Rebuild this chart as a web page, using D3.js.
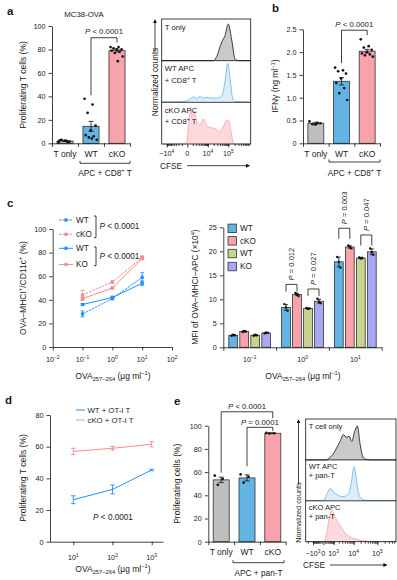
<!DOCTYPE html>
<html>
<head>
<meta charset="utf-8">
<script src="https://cdn.jsdelivr.net/npm/d3@7"></script>
<style>
  body { margin: 0; background: #fff; }
  svg text { font-family: "Liberation Sans", Arial, Helvetica, sans-serif; fill: #1a1a1a; }
</style>
</head>
<body>
<svg id="fig" width="397" height="580"></svg>
<script>
// ---------- data ----------

// a: proliferating T cells, MC38-OVA
const aCats = ['T only', 'WT', 'cKO'];
const aMeans = [1.9, 14.5, 79];
const aSem = [0.3, 4.2, 1.2];
const aDots = [
  [1, 2, 3, 1.5, 2.2, 2.6, 1.2],
  [38, 33, 26, 15, 11, 7, 6, 5, 3, 4],
  [82, 82, 81, 80, 80, 79, 78, 77, 74, 70]
];

// a: CFSE histograms  [CFSE, normalized count]
const aHistTOnly = [[-18200, 0], [19000, 0], [28000, 0.1], [49000, 0.45], [70000, 0.6], [100000, 0.88],
  [145000, 0.5], [206000, 0.05], [295000, 0], [1.1e6, 0]];
const aHistWT = [[-18200, 0.01], [-350, 0.02], [420, 0.08], [1130, 0.13], [2150, 0.09], [3620, 0.14],
  [5700, 0.1], [8750, 0.12], [15800, 0.1], [28000, 0.1], [49000, 0.15], [70000, 0.5], [94000, 0.94],
  [120000, 0.6], [160000, 0.1], [206000, 0.02], [1.1e6, 0.01]];
const aHistKO = [[-18200, 0], [-350, 0], [-80, 0.05], [141, 0.4], [550, 0.84], [886, 0.65], [1390, 0.8],
  [2150, 0.55], [3620, 0.45], [5700, 0.6], [8750, 0.45], [13000, 0.4], [23000, 0.37], [40000, 0.29],
  [57000, 0.41], [83000, 0.57], [107000, 0.55], [145000, 0.2], [190000, 0], [1.1e6, 0]];

// b: IFNγ
const bCats = ['T only', 'WT', 'cKO'];
const bMeans = [0.44, 1.36, 2.02];
const bSem = [0.02, 0.08, 0.04];
const bDots = [
  [0.48, 0.45, 0.42, 0.44, 0.41],
  [1.66, 1.6, 1.58, 1.53, 1.42, 1.32, 1.21, 1.1, 0.95],
  [2.28, 2.13, 2.1, 2.05, 2.0, 1.97, 1.95, 1.93, 1.9]
];

// c (left): OVA-MHCI+ CD11c+ %
const cDoses = [0.1, 1, 10];
const cSeries = ['WT', 'cKO', 'WT', 'KO'];
const cMeans = [[28, 41, 59], [44, 55, 76], [36, 42, 54], [41, 50, 75]];
const cSem = [[2.5, 1, 4], [4, 1, 1.2], [0.8, 1, 2], [1.5, 0.8, 1]];

// c (right): MFI of OVA-MHCI-APC (x10^4)
const mfiDoses = [-1, 0, 1];
const mfiGroups = ['WT', 'cKO', 'WT', 'KO'];
const mfiMeans = [[2.5, 3.3, 2.5, 3.0], [8.3, 11.0, 8.1, 9.6], [17.8, 20.9, 18.6, 19.9]];
const mfiSem = [[0.1, 0.1, 0.1, 0.1], [0.6, 0.25, 0.1, 0.4], [1.0, 0.25, 0.15, 0.6]];
const mfiDots = [
  [[2.4, 2.6, 2.5], [3.2, 3.4, 3.3], [2.4, 2.6, 2.5], [2.9, 3.1, 3.0]],
  [[9.0, 8.3, 7.6], [11.3, 11.0, 10.7], [8.2, 8.0, 8.1], [10.1, 9.5, 9.2]],
  [[18.8, 17.8, 16.6], [21.2, 20.9, 20.6], [18.7, 18.5, 18.6], [20.6, 19.8, 19.3]]
];

// d: proliferation with OT-I T
const dDoses = [10, 100, 1000];
const dSeries = ['WT + OT-I T', 'cKO + OT-I T'];
const dMeans = [[26.5, 33, 45.3], [57, 59, 61.5]];
const dSem = [[2.5, 2.8, 0.5], [2, 1.2, 1.7]];

// e: proliferating cells with pan-T
const eCats = ['T only', 'WT', 'cKO'];
const eMeans = [53.3, 55, 93.5];
const eSem = [2.3, 2.6, 0.3];
const eDots = [[57, 54, 49], [58, 56, 51], [93.8, 93.5, 93.3]];

// e: CFSE histograms
const eHistTOnly = [[-2590, 0], [200, 0], [364, 0.03], [950, 0.15], [1540, 0.3], [2330, 0.45], [3400, 0.62],
  [4930, 0.55], [6280, 0.58], [8240, 0.45], [11500, 0.72], [14500, 0.83], [18900, 0.4], [24000, 0.1],
  [31000, 0.02], [59000, 0], [5.9e5, 0]];
const eHistWT = [[-2590, 0.005], [0, 0.005], [228, 0.15], [364, 0.24], [533, 0.3], [950, 0.22], [1890, 0.13],
  [3400, 0.1], [4930, 0.14], [6280, 0.2], [8240, 0.5], [10400, 0.83], [12700, 0.6], [16000, 0.2],
  [22300, 0.05], [36000, 0.01], [5.9e5, 0.01]];
const eHistKO = [[-2590, 0], [0, 0], [228, 0.2], [430, 0.55], [730, 0.76], [1220, 0.6], [2330, 0.4],
  [4100, 0.22], [7000, 0.12], [11500, 0.07], [22300, 0.03], [42000, 0.01], [5.9e5, 0]];

// ---------- styles ----------
const INK = '#111';
const GRAY = '#bebebe', BLUE = '#62b4e5', PINK = '#f8a2ab', OLIVE = '#c9d28f', LAV = '#a8a8f4';
const LBLUE = '#1e90ff', LPINK = '#f38c8c';

const svg = d3.select('#fig');

svg.append('defs').append('marker')
  .attr('id', 'arr').attr('viewBox', '0 0 6 6').attr('refX', 5).attr('refY', 3)
  .attr('markerWidth', 5).attr('markerHeight', 5).attr('orient', 'auto')
  .append('path').attr('d', 'M0,0L6,3L0,6Z').attr('fill', INK);

// text with ^superscript, _subscript and *italic parts
function rich(t, parts, fs) {
  let shift = 0;
  parts.forEach(p => {
    let kind = 0, s = p, it = false;
    if (p[0] === '^') { kind = -1; s = p.slice(1); }
    else if (p[0] === '_') { kind = 1; s = p.slice(1); }
    else if (p[0] === '*') { it = true; s = p.slice(1); }
    const target = kind === -1 ? -fs * 0.38 : kind === 1 ? fs * 0.28 : 0;
    const ts = t.append('tspan').attr('dy', target - shift).attr('font-size', kind ? fs * 0.68 : fs).text(s);
    if (it) ts.attr('font-style', 'italic');
    shift = target;
  });
}

function label(parts, x, y, o = {}) {
  const fs = o.fs || 8;
  const t = svg.append('text').attr('x', x).attr('y', y).attr('font-size', fs)
    .attr('text-anchor', o.anchor || 'start');
  if (o.rotate) t.attr('transform', `rotate(-90,${x},${y})`);
  if (o.bold) t.attr('font-weight', 'bold');
  rich(t, typeof parts === 'string' ? [parts] : parts, fs);
  return t;
}

function styleAxis(ax) {
  ax.attr('font-size', 7.2).attr('font-family', null);
  ax.selectAll('path,line').attr('stroke', INK).attr('stroke-width', 0.8);
  return ax;
}

function yAxis(y, x, ticks, fmt) {
  styleAxis(svg.append('g').attr('transform', `translate(${x},0)`)
    .call(d3.axisLeft(y).tickValues(ticks).tickSize(3.5).tickSizeOuter(0).tickPadding(3)
      .tickFormat(fmt || d3.format('d'))));
}

function line(d) {
  return svg.append('path').attr('d', d).attr('fill', 'none').attr('stroke', INK).attr('stroke-width', 0.8);
}

const jit = (j) => ((j * 0.618034) % 1) - 0.5;
const pow10 = e => ['10', '^' + (e < 0 ? '\u2212' + (-e) : e)];

// ---------- bar panels ----------
function barPanel(o) {
  const x = d3.scaleBand().domain(o.cats).range([o.left, o.right]);
  const y = d3.scaleLinear().domain([0, o.max]).range([o.bottom, o.top]);
  const bw = x.bandwidth() * 0.62;
  const cx = i => x(o.cats[i]) + x.bandwidth() / 2;
  const g = svg.append('g');

  g.selectAll(null).data(o.means).join('rect')
    .attr('x', (d, i) => cx(i) - bw / 2).attr('y', d => y(d))
    .attr('width', bw).attr('height', d => y(0) - y(d))
    .attr('fill', (d, i) => o.colors[i]).attr('stroke', '#333').attr('stroke-width', 0.8);

  g.selectAll(null).data(o.means).join('path')
    .attr('d', (d, i) => {
      const x0 = cx(i), y1 = y(d - o.sem[i]), y2 = y(d + o.sem[i]);
      return `M${x0},${y1}V${y2}M${x0 - 2.5},${y1}H${x0 + 2.5}M${x0 - 2.5},${y2}H${x0 + 2.5}`;
    })
    .attr('stroke', INK).attr('stroke-width', 0.8).attr('fill', 'none');

  o.dots.forEach((arr, i) => {
    g.selectAll(null).data(arr).join('circle')
      .attr('cx', (d, j) => cx(i) + jit(j) * bw * 0.8)
      .attr('cy', d => y(d)).attr('r', 1.35).attr('fill', INK);
  });

  yAxis(y, o.left, o.ticks, o.fmt);

  const xi = d3.scaleLinear().domain([0, o.cats.length]).range([o.left, o.right]);
  styleAxis(g.append('g').attr('transform', `translate(0,${o.bottom})`)
    .call(d3.axisBottom(xi).tickValues(d3.range(o.cats.length + 1)).tickFormat('').tickSize(3.5).tickSizeOuter(0)));
  styleAxis(g.append('g').attr('transform', `translate(0,${o.bottom})`)
    .call(d3.axisBottom(x).tickSize(0).tickPadding(7.5)))
    .attr('font-size', 8.5)
    .call(a => a.select('.domain').remove());

  return { x, y, cx };
}

function pBracket(xa, xb, yt, ya, yb, parts, lx, ly) {
  line(`M${xa},${ya}V${yt}H${xb}V${yb}`);
  label(parts, lx, ly, { anchor: 'middle', fs: 7.8 });
}

function groupBracket(x1, x2, y, parts, ty) {
  line(`M${x1},${y - 2.5}V${y}H${x2}V${y - 2.5}`);
  label(parts, (x1 + x2) / 2, ty, { anchor: 'middle', fs: 8.3 });
}

// ---------- histogram panels ----------
function histPanel(o) {
  const x = d3.scaleSymlog().constant(o.c).domain(o.domain).range([o.left, o.right]);
  const rh = (o.bottom - o.top) / o.rows.length;
  o.rows.forEach((r, i) => {
    const y = d3.scaleLinear().domain([0, 1]).range([o.top + rh * (i + 1), o.top + rh * i]);
    const area = d3.area().x(d => x(d[0])).y0(y(0)).y1(d => y(d[1])).curve(d3.curveMonotoneX);
    const ln = d3.line().x(d => x(d[0])).y(d => y(d[1])).curve(d3.curveMonotoneX);
    svg.append('path').datum(r.pts).attr('d', area).attr('fill', r.fill);
    svg.append('path').datum(r.pts).attr('d', ln).attr('fill', 'none')
      .attr('stroke', r.stroke).attr('stroke-width', 0.8);
    r.label.forEach((s, k) => label(s, o.left + 3, o.top + rh * i + o.lab0 + k * o.labStep, { fs: o.labFs }));
    if (i > 0) line(`M${o.left},${o.top + rh * i}H${o.right}`);
  });
  svg.append('rect').attr('x', o.left).attr('y', o.top)
    .attr('width', o.right - o.left).attr('height', o.bottom - o.top)
    .attr('fill', 'none').attr('stroke', INK).attr('stroke-width', 0.8);

  styleAxis(svg.append('g').attr('transform', `translate(0,${o.bottom})`)
    .call(d3.axisBottom(x).tickValues(o.minor).tickFormat('').tickSize(2).tickSizeOuter(0)))
    .call(a => a.select('.domain').remove());
  styleAxis(svg.append('g').attr('transform', `translate(0,${o.bottom})`)
    .call(d3.axisBottom(x).tickValues(o.major).tickFormat('').tickSize(3.5).tickSizeOuter(0)))
    .call(a => a.select('.domain').remove());
  o.major.forEach((v, i) => label(o.majorLabels[i], x(v), o.bottom + o.tickDy, { anchor: 'middle', fs: 7.2 }));

  // y arrow + title
  line(`M${o.arrX},${o.arrY0}V${o.top + 1}`).attr('marker-end', 'url(#arr)');
  label('Normalized counts', o.arrX + 2.6, o.titleY, { anchor: 'middle', rotate: true, fs: o.titleFs });
  // CFSE arrow
  label('CFSE', o.cfseX, o.cfseY + 2.9, { fs: 8.3 });
  line(`M${o.cfseArr[0]},${o.cfseY}H${o.cfseArr[1]}`).attr('marker-end', 'url(#arr)');
  return x;
}

function minorTicks(decades, kmax, dmin, dmax) {
  const out = [];
  decades.forEach(d => {
    for (let k = 1; k <= kmax; k++) {
      if (k * d <= dmax) out.push(k * d);
      if (-k * d >= dmin) out.push(-k * d);
    }
  });
  return out;
}

// ---------- panel a ----------
label('a', 7, 15, { bold: true, fs: 11.5 });
label('MC38-OVA', 84, 17, { anchor: 'middle', fs: 7.8 });

const pa = barPanel({
  cats: aCats, means: aMeans, sem: aSem, dots: aDots, colors: [GRAY, BLUE, PINK],
  left: 52, right: 130, top: 26, bottom: 143.3, max: 100, ticks: [0, 20, 40, 60, 80, 100]
});
label('Proliferating T cells (%)', 25.5, 85, { anchor: 'middle', rotate: true, fs: 8.5 });
pBracket(pa.cx(1), pa.cx(2), pa.y(90), pa.y(41), pa.y(86), ['*P', ' < 0.0001'], (pa.cx(1) + pa.cx(2)) / 2, pa.y(93));
groupBracket(80, 130, 163.3, ['APC + CD8', '^+', ' T'], 175.5);

histPanel({
  c: 1250, domain: [-18200, 1.12e6], left: 161.7, right: 250.7, top: 19, bottom: 144,
  rows: [
    { pts: aHistTOnly, fill: '#c9c9c9', stroke: INK, label: ['T only'] },
    { pts: aHistWT, fill: '#dcedf9', stroke: BLUE, label: ['WT APC', ['+ CD8', '^+', ' T']] },
    { pts: aHistKO, fill: '#fcd9dd', stroke: PINK, label: ['cKO APC', ['+ CD8', '^+', ' T']] }
  ],
  lab0: 10.5, labStep: 11.5, labFs: 7.7,
  major: [-1e4, 0, 1e4, 1e5], majorLabels: [['\u221210', '^4'], '0', pow10(4), pow10(5)],
  minor: minorTicks([1e3, 1e4, 1e5], 9, -18200, 1.12e6), tickDy: 12,
  arrX: 155, arrY0: 52, titleY: 82, titleFs: 8.3,
  cfseX: 160, cfseY: 165.7, cfseArr: [187, 249.3]
});

// ---------- panel b ----------
label('b', 272, 12.3, { bold: true, fs: 11.5 });
const pb = barPanel({
  cats: bCats, means: bMeans, sem: bSem, dots: bDots, colors: [GRAY, BLUE, PINK],
  left: 303, right: 380, top: 29.3, bottom: 143.3, max: 2.5, ticks: [0, 0.5, 1, 1.5, 2, 2.5],
  fmt: d => d ? d.toFixed(1) : '0'
});
label(['IFN\u03b3 (ng ml', '^\u22121', ')'], 278, 86, { anchor: 'middle', rotate: true, fs: 8.5 });
pBracket(pb.cx(1), pb.cx(2), pb.y(2.48), pb.y(1.76), pb.y(2.37), ['*P', ' < 0.0001'], (pb.cx(1) + pb.cx(2)) / 2, pb.y(2.55));
groupBracket(329, 380, 162, ['APC + CD8', '^+', ' T'], 175.5);

// ---------- panel c (left) ----------
label('c', 7, 206.5, { bold: true, fs: 11.5 });
{
  const x = d3.scaleLog().domain([1e-2, 1e2]).range([52.7, 172]);
  const y = d3.scaleLinear().domain([0, 100]).range([347, 229]);
  const colors = [LBLUE, LPINK, LBLUE, LPINK];
  const dashed = [true, true, false, false];
  const gen = d3.line().x((d, i) => x(cDoses[i])).y(d => y(d));
  [1, 3, 0, 2].forEach(s => {
    svg.append('path').datum(cMeans[s]).attr('d', gen).attr('fill', 'none')
      .attr('stroke', colors[s]).attr('stroke-width', 1)
      .attr('stroke-dasharray', dashed[s] ? '2.5,1' : null);
    cMeans[s].forEach((m, i) => {
      const xx = x(cDoses[i]), y1 = y(m - cSem[s][i]), y2 = y(m + cSem[s][i]);
      svg.append('path').attr('d', `M${xx},${y1}V${y2}M${xx - 2},${y1}H${xx + 2}M${xx - 2},${y2}H${xx + 2}`)
        .attr('stroke', colors[s]).attr('stroke-width', 0.8).attr('fill', 'none');
      svg.append('rect').attr('x', xx - 1.6).attr('y', y(m) - 1.6).attr('width', 3.2).attr('height', 3.2)
        .attr('fill', colors[s]);
    });
  });
  yAxis(y, 52.7, [0, 20, 40, 60, 80, 100]);
  styleAxis(svg.append('g').attr('transform', 'translate(0,347)')
    .call(d3.axisBottom(x).tickValues([1e-2, 1e-1, 1, 10, 100]).tickFormat('').tickSize(3.5).tickSizeOuter(0)));
  [-2, -1, 0, 1, 2].forEach(e => label(pow10(e), x(Math.pow(10, e)), 362, { anchor: 'middle', fs: 7.2 }));
  label(['OVA', '_257\u2013264', ' (\u00b5g ml', '^\u22121', ')'], 113, 378.5, { anchor: 'middle', fs: 8.5 });
  label(['OVA\u2013MHCI', '^+', '/CD11c', '^+', ' (%)'], 25.5, 288, { anchor: 'middle', rotate: true, fs: 8.5 });

  // legend
  const ly = [220, 234.3, 248.3, 264.5];
  cSeries.forEach((s, i) => {
    svg.append('path').attr('d', `M59,${ly[i]}H73`).attr('stroke', colors[i]).attr('stroke-width', 1)
      .attr('stroke-dasharray', dashed[i] ? '2.5,1' : null);
    svg.append('rect').attr('x', 64.4).attr('y', ly[i] - 1.6).attr('width', 3.2).attr('height', 3.2).attr('fill', colors[i]);
    label(s, 76, ly[i] + 2.8, { fs: 8.2 });
  });
  line('M94,216H96V237.7H94');
  line('M94,247H96V265.7H94');
  label(['*P', ' < 0.0001'], 99.5, 229, { fs: 8.2 });
  label(['*P', ' < 0.0001'], 99.5, 259, { fs: 8.2 });
}

// ---------- panel c (right) ----------
{
  const names = mfiDoses.map(String);
  const x0 = d3.scaleBand().domain(names).range([223.3, 381.7]);
  const x1 = d3.scaleBand().domain(d3.range(4)).range([0, x0.bandwidth()]).paddingInner(0.2).paddingOuter(0.5);
  const y = d3.scaleLinear().domain([0, 25]).range([347.3, 227.3]);
  const colors = [BLUE, PINK, OLIVE, LAV];
  const bw = x1.bandwidth();
  const cx = (gi, k) => x0(names[gi]) + x1(k) + bw / 2;

  mfiMeans.forEach((row, gi) => {
    row.forEach((m, k) => {
      svg.append('rect').attr('x', cx(gi, k) - bw / 2).attr('y', y(m)).attr('width', bw)
        .attr('height', y(0) - y(m)).attr('fill', colors[k]).attr('stroke', '#333').attr('stroke-width', 0.8);
      const xx = cx(gi, k), ya = y(m - mfiSem[gi][k]), yb = y(m + mfiSem[gi][k]);
      line(`M${xx},${ya}V${yb}M${xx - 2},${ya}H${xx + 2}M${xx - 2},${yb}H${xx + 2}`);
      mfiDots[gi][k].forEach((v, j) => {
        svg.append('circle').attr('cx', xx + (j - 1) * 1.6).attr('cy', y(v)).attr('r', 1.2).attr('fill', INK);
      });
    });
  });

  yAxis(y, 223.3, [0, 5, 10, 15, 20, 25]);
  const xi = d3.scaleLinear().domain([0, 3]).range([223.3, 381.7]);
  styleAxis(svg.append('g').attr('transform', 'translate(0,347.3)')
    .call(d3.axisBottom(xi).tickValues([0, 1, 2, 3]).tickFormat('').tickSize(3.5).tickSizeOuter(0)));
  mfiDoses.forEach((e, gi) => label(pow10(e), x0(names[gi]) + x0.bandwidth() / 2, 362, { anchor: 'middle', fs: 7.2 }));
  label(['OVA', '_257\u2013264', ' (\u00b5g ml', '^\u22121', ')'], 303, 378.5, { anchor: 'middle', fs: 8.5 });
  label(['MFI of OVA\u2013MHCI\u2013APC (\u00d710', '^4', ')'], 198, 287, { anchor: 'middle', rotate: true, fs: 8.3 });

  // legend
  const ly = [228.3, 240.8, 253.5, 266.5];
  mfiGroups.forEach((s, k) => {
    svg.append('rect').attr('x', 228).attr('y', ly[k] - 4.2).attr('width', 8.5).attr('height', 8.5)
      .attr('fill', colors[k]).attr('stroke', '#333').attr('stroke-width', 0.8);
    label(s, 240, ly[k] + 2.8, { fs: 8.2 });
  });

  // P values
  const pv = [[1, 0, 1, 13.1, 'P = 0.012'], [1, 2, 3, 12.15, 'P = 0.027'], [2, 0, 1, 24.8, 'P = 0.003'], [2, 2, 3, 23.4, 'P = 0.047']];
  pv.forEach(([gi, a, b, top, txt]) => {
    const legs = gi === 2 ? 2.2 : 1.5;
    line(`M${cx(gi, a)},${y(top - legs)}V${y(top)}H${cx(gi, b)}V${y(top - legs)}`);
    const mx = (cx(gi, a) + cx(gi, b)) / 2;
    label(['*P', txt.slice(1)], mx + 2.6, y(top) - 4, { rotate: true, fs: 7.6 });
  });
}

// ---------- panel d ----------
label('d', 5, 404.3, { bold: true, fs: 11.5 });
{
  const x = d3.scaleLog().domain([Math.pow(10, 0.406), Math.pow(10, 3.288)]).range([50, 163]);
  const y = d3.scaleLinear().domain([0, 80]).range([541.7, 415]);
  const colors = [LBLUE, LPINK];
  const gen = d3.line().x((d, i) => x(dDoses[i])).y(d => y(d));
  dMeans.forEach((row, s) => {
    svg.append('path').datum(row).attr('d', gen).attr('fill', 'none').attr('stroke', colors[s]).attr('stroke-width', 1);
    row.forEach((m, i) => {
      const xx = x(dDoses[i]), ya = y(m - dSem[s][i]), yb = y(m + dSem[s][i]);
      svg.append('path').attr('d', `M${xx},${ya}V${yb}M${xx - 2.2},${ya}H${xx + 2.2}M${xx - 2.2},${yb}H${xx + 2.2}`)
        .attr('stroke', colors[s]).attr('stroke-width', 0.9).attr('fill', 'none');
    });
  });
  yAxis(y, 50, [0, 20, 40, 60, 80]);
  styleAxis(svg.append('g').attr('transform', 'translate(0,541.7)')
    .call(d3.axisBottom(x).tickValues(dDoses).tickFormat('').tickSize(3.5).tickSizeOuter(0)));
  [1, 2, 3].forEach((e, i) => label(pow10(e), x(dDoses[i]), 560, { anchor: 'middle', fs: 7.2 }));
  label(['OVA', '_257\u2013264', ' (\u00b5g ml', '^\u22121', ')'], 113, 571.5, { anchor: 'middle', fs: 8.5 });
  label('Proliferating T cells (%)', 25.5, 478, { anchor: 'middle', rotate: true, fs: 8.5 });
  const ly = [410, 420];
  dSeries.forEach((s, i) => {
    svg.append('path').attr('d', `M76,${ly[i]}H85`).attr('stroke', colors[i]).attr('stroke-width', 1);
    label(s, 87.5, ly[i] + 2.7, { fs: 7.8 });
  });
  label(['*P', ' < 0.0001'], 113, 519.5, { anchor: 'middle', fs: 8.2 });
}

// ---------- panel e ----------
label('e', 174, 404.5, { bold: true, fs: 11.5 });
const pe = barPanel({
  cats: eCats, means: eMeans, sem: eSem, dots: eDots, colors: [GRAY, BLUE, PINK],
  left: 208.3, right: 285.7, top: 425.7, bottom: 541.7, max: 100, ticks: [0, 20, 40, 60, 80, 100]
});
label('Proliferating cells (%)', 180.5, 483.7, { anchor: 'middle', rotate: true, fs: 8.5 });
pBracket(pe.cx(0), pe.cx(2), pe.y(112), pe.y(59.5), pe.y(106.5), ['*P', ' < 0.0001'], (pe.cx(0) + pe.cx(2)) / 2, pe.y(114.5));
pBracket(pe.cx(1), pe.cx(2), pe.y(98.6), pe.y(65), pe.y(95.3), ['*P', ' = 0.0001'], (pe.cx(1) + pe.cx(2)) / 2, pe.y(101));
groupBracket(233, 284, 562.7, 'APC + pan-T', 575.5);

histPanel({
  c: 600, domain: [-2590, 5.9e5], left: 305.7, right: 396, top: 419, bottom: 541.7,
  rows: [
    { pts: eHistTOnly, fill: '#c9c9c9', stroke: INK, label: ['T cell only'] },
    { pts: eHistWT, fill: '#dcedf9', stroke: BLUE, label: ['WT APC', '+ pan-T'] },
    { pts: eHistKO, fill: '#fcd9dd', stroke: PINK, label: ['cKO APC', '+ pan-T'] }
  ],
  lab0: 9.5, labStep: 8.7, labFs: 7.5,
  major: [-1e3, 0, 1e3, 1e4, 1e5], majorLabels: [['\u221210', '^3'], '0', pow10(3), pow10(4), pow10(5)],
  minor: minorTicks([1e2, 1e3, 1e4, 1e5], 9, -2590, 5.9e5), tickDy: 14,
  arrX: 298.5, arrY0: 484, titleY: 512.5, titleFs: 7.3,
  cfseX: 303, cfseY: 565, cfseArr: [330, 386.7]
});
</script>
</body>
</html>
